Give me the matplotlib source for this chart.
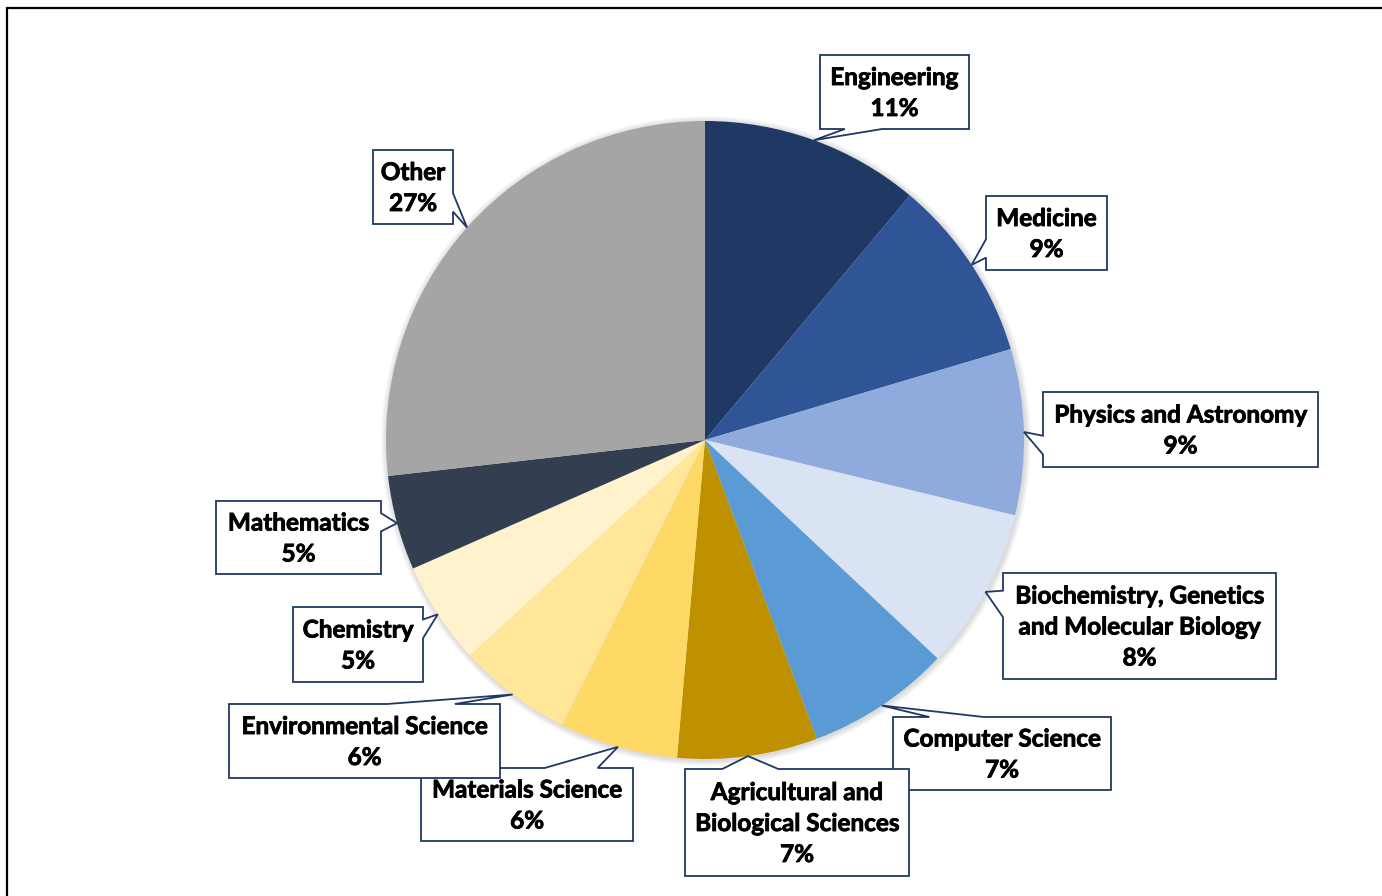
import numpy as np
import matplotlib.pyplot as plt
import matplotlib.patheffects as pe
from matplotlib.patches import Polygon, Rectangle, Circle

plt.rcParams['font.family'] = ['Lato', 'DejaVu Sans']

labels = ['Engineering', 'Medicine', 'Physics and Astronomy',
          'Biochemistry, Genetics\nand Molecular Biology', 'Computer Science',
          'Agricultural and\nBiological Sciences', 'Materials Science',
          'Environmental Science', 'Chemistry', 'Mathematics', 'Other']
shares = [11.1, 9.3, 8.4, 8.2, 7.3, 7.1, 6.0, 5.8, 5.2, 4.8, 26.8]
pct = [11, 9, 9, 8, 7, 7, 6, 6, 5, 5, 27]
colors = ['#203864', '#2F5597', '#8FAADC', '#DAE3F3', '#5B9BD5', '#BF9000',
          '#FFD966', '#FFE699', '#FFF2CC', '#333F50', '#A5A5A5']
# callout boxes: left, top, right, bottom (pixels from top-left)
boxes = [(820, 55, 969, 129), (986, 196, 1107, 270), (1043, 392, 1318, 467),
         (1003, 573, 1276, 679), (893, 717, 1111, 790), (685, 769, 909, 876),
         (421, 768, 633, 841), (229, 704, 500, 778), (293, 607, 423, 682),
         (216, 501, 381, 574), (373, 150, 453, 224)]

W, H = 1382, 896
fig = plt.figure(figsize=(W / 100, H / 100), dpi=100)
ax = fig.add_axes([0, 0, 1, 1])

cx, cy, r = 705, 440, 319

# soft shadow around the pie
for k in range(1, 7):
    ax.add_patch(Circle((cx + 1, H - cy - 1), r + k, color='black',
                        alpha=0.025, linewidth=0, zorder=0))

ax.pie(shares, colors=colors, startangle=90, counterclock=False,
       center=(cx, H - cy), radius=r, frame=True,
       wedgeprops=dict(linewidth=0, zorder=1))
ax.set_xlim(0, W)
ax.set_ylim(0, H)
ax.set_aspect('equal')
ax.axis('off')


def callout(box, tip):
    # excel style wedge-rect callout, in pixel coords (y down)
    l, t, rr, b = box
    w, h = rr - l, b - t
    hc, vc = (l + rr) / 2, (t + b) / 2
    dxp, dyp = tip[0] - hc, tip[1] - vc
    vertical = abs(dyp) - abs(dxp * h / w) > 0
    x1, x2 = (w * 2 / 12, w * 5 / 12) if dxp < 0 else (w * 7 / 12, w * 10 / 12)
    y1, y2 = (h * 2 / 12, h * 5 / 12) if dyp < 0 else (h * 7 / 12, h * 10 / 12)
    pts = [(l, t)]
    if vertical and dyp < 0:
        pts += [(l + x1, t), tip, (l + x2, t)]
    pts += [(rr, t)]
    if not vertical and dxp > 0:
        pts += [(rr, t + y1), tip, (rr, t + y2)]
    pts += [(rr, b)]
    if vertical and dyp > 0:
        pts += [(l + x2, b), tip, (l + x1, b)]
    pts += [(l, b)]
    if not vertical and dxp < 0:
        pts += [(l, t + y2), tip, (l, t + y1)]
    return [(x, H - y) for x, y in pts]


cum = np.cumsum([0] + shares[:-1])
for i, lab in enumerate(labels):
    ang = np.deg2rad(90 - 360 * (cum[i] + shares[i] / 2) / sum(shares))
    tip = (cx + r * np.cos(ang), cy - r * np.sin(ang))
    box = boxes[i]
    poly = Polygon(callout(box, tip), closed=True, facecolor='white',
                   edgecolor='#203864', linewidth=1.3, zorder=5 + i)
    ax.add_patch(poly)
    ax.text((box[0] + box[2]) / 2, H - (box[1] + box[3]) / 2 - 1,
            f'{lab}\n{pct[i]}%', ha='center', va='center', multialignment='center',
            fontsize=17.5, fontweight='bold', color='black', linespacing=1.42,
            zorder=5 + i,
            path_effects=[pe.withStroke(linewidth=0.6, foreground='black')])

# outer chart frame
ax.add_patch(Rectangle((7, -20), W + 20, H - 8 + 20, fill=False,
                       edgecolor='black', linewidth=1.6, clip_on=False))

fig.savefig('out.png', dpi=100)
